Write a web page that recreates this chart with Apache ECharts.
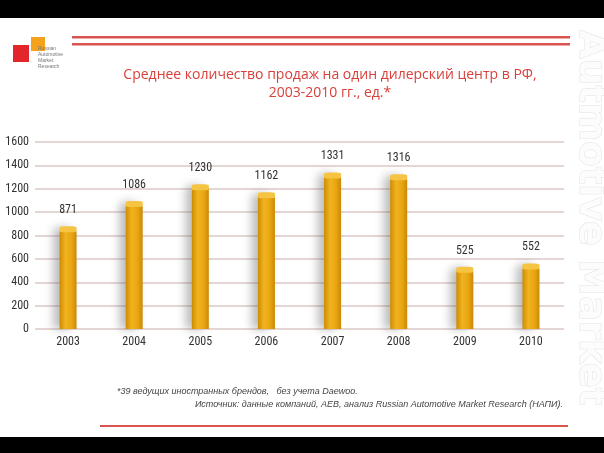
<!DOCTYPE html>
<html><head><meta charset="utf-8">
<script src="https://cdn.jsdelivr.net/npm/echarts@6/dist/echarts.min.js"></script>
<style>html,body{margin:0;padding:0;background:#fff}#c{width:604px;height:453px}</style>
</head><body><div id="c"></div>
<script>
var years = ['2003','2004','2005','2006','2007','2008','2009','2010'];
var sales = [871, 1086, 1230, 1162, 1331, 1316, 525, 552];
var yTicks = [0, 200, 400, 600, 800, 1000, 1200, 1400, 1600];

var chart = echarts.init(document.getElementById('c'), null, {renderer:'canvas'});
var narrow = '"Liberation Sans Narrow", "Roboto Condensed", Roboto, sans-serif';
var barGrad = new echarts.graphic.LinearGradient(0,0,1,0,[
  {offset:0,color:'#cc8c00'},{offset:0.35,color:'#f2b320'},{offset:0.7,color:'#e9a512'},{offset:1,color:'#c98a05'}]);
chart.setOption({
  backgroundColor:'#ffffff',
  animation:false,
  grid:{left:35, right:40, top:142, bottom:124, containLabel:false},
  xAxis:{type:'category', data:years,
    axisLine:{show:false}, axisTick:{show:false},
    axisLabel:{color:'#333', fontFamily:narrow, fontSize:12, margin:7}},
  yAxis:{type:'value', min:yTicks[0], max:yTicks[yTicks.length-1], interval:200,
    axisLine:{show:false}, axisTick:{show:false},
    axisLabel:{color:'#333', fontFamily:narrow, fontSize:12, margin:6, formatter:function(v){return String(v);}},
    splitLine:{lineStyle:{color:'#dcc9c9', width:1.5}}},
  series:[{
    type:'bar', data:sales, barWidth:17,
    itemStyle:{color:barGrad, borderRadius:[5,5,0,0],
      shadowColor:'rgba(60,60,60,0.35)', shadowBlur:10, shadowOffsetX:-6, shadowOffsetY:0},
    label:{show:true, position:'top', distance:11, color:'#333', fontFamily:narrow, fontSize:12}
  },{
    type:'pictorialBar', data:sales, symbol:'roundRect', symbolSize:[17,6],
    symbolPosition:'end', symbolOffset:[0,-1], z:3,
    itemStyle:{color:'#f6c443'}
  }],
  graphic:[
    {type:'rect', shape:{x:0,y:0,width:604,height:18}, style:{fill:'#000'}},
    {type:'rect', shape:{x:0,y:437,width:604,height:16}, style:{fill:'#000'}},
    {type:'rect', shape:{x:72,y:36,width:498,height:2.5}, style:{fill:'#d9534f'}},
    {type:'rect', shape:{x:72,y:43,width:498,height:2.5}, style:{fill:'#d9534f'}},
    {type:'rect', shape:{x:100,y:425,width:468,height:2}, style:{fill:'#d9534f'}},
    {type:'rect', shape:{x:13,y:45,width:16,height:17}, style:{fill:'#e2262a'}},
    {type:'rect', shape:{x:31,y:37,width:14,height:14}, style:{fill:'#f4a21c'}},
    {type:'text', x:38, y:46, style:{text:'Russian\nAutomotive\nMarket\nResearch', fill:'#777', font:'5px sans-serif', lineHeight:6}},
    {type:'text', x:330, y:66, style:{text:'Среднее количество продаж на один дилерский центр в РФ,\n2003-2010 гг., ед.*', fill:'#d9403a', font:'14px "Open Sans", sans-serif', textAlign:'center', lineHeight:18}},
    {type:'text', x:117, y:387, style:{text:'*39 ведущих иностранных брендов,   без учета Daewoo.', fill:'#444', font:'italic 9px "Liberation Sans", sans-serif'}},
    {type:'text', x:563, y:400, style:{text:'Источник: данные компаний, AEB, анализ Russian Automotive Market Research (НАПИ).', fill:'#444', font:'italic 9px "Liberation Sans", sans-serif', textAlign:'right'}},
    {type:'text', x:608, y:30, rotation:-Math.PI/2, style:{text:'Autmotive Market', fill:'#fcfcfc', stroke:'#e2e2e2', lineWidth:1, font:'bold 37px "DejaVu Sans", sans-serif', textAlign:'left', textVerticalAlign:'top'}}
  ]
});
</script></body></html>
